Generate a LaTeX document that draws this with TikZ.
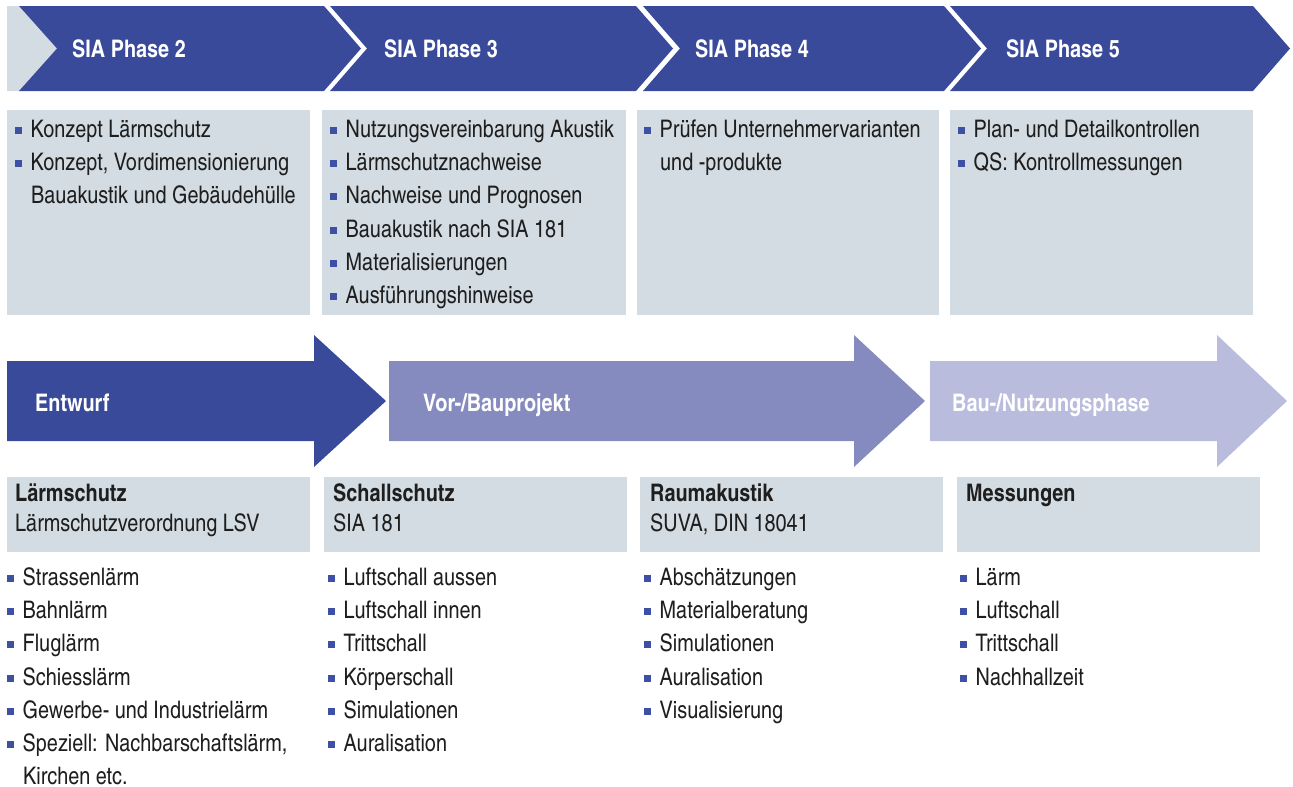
\documentclass[tikz,border=0pt]{standalone}
\usepackage{fontspec}
\setmainfont{texgyreheroscn}[Extension=.otf, UprightFont=*-regular, BoldFont=*-bold]
\definecolor{dunkelblau}{HTML}{394A9B}
\definecolor{mittelblau}{HTML}{858BBE}
\definecolor{hellblau}{HTML}{B9BCDC}
\definecolor{grau}{HTML}{D3DCE2}
\definecolor{punkt}{HTML}{3D50A3}
\definecolor{schrift}{HTML}{1E1E1E}
\newcommand{\pkt}{\textcolor{punkt}{\rule[3pt]{7pt}{7pt}}\hspace{8.5pt}}
\tikzset{
  txt/.style={anchor=base west, inner sep=0pt, text=schrift, font=\fontsize{24.2}{33}\selectfont},
  fett/.style={txt, font=\fontsize{24.2}{33}\selectfont\bfseries},
  weiss/.style={fett, text=white},
}
\begin{document}
\begin{tikzpicture}[x=1pt, y=-1pt]
\useasboundingbox (0,0) rectangle (1293,787);
\fill[grau] (7,6) -- (19,6) -- (57,48.5) -- (19,91) -- (7,91) -- cycle;
\fill[dunkelblau] (19,6) -- (324,6) -- (361,48.5) -- (324,91) -- (19,91) -- (57,48.5) -- cycle;
\fill[dunkelblau] (330,6) -- (636,6) -- (673,48.5) -- (636,91) -- (330,91) -- (367,48.5) -- cycle;
\fill[dunkelblau] (643,6) -- (944,6) -- (981,48.5) -- (944,91) -- (643,91) -- (680,48.5) -- cycle;
\fill[dunkelblau] (950,6) -- (1253,6) -- (1290,48.5) -- (1253,91) -- (950,91) -- (987,48.5) -- cycle;
\node[weiss] (ph2) at (72,57) {SIA Phase 2};
\node[weiss] (ph3) at (384,57) {SIA Phase 3};
\node[weiss] (ph4) at (695,57) {SIA Phase 4};
\node[weiss] (ph5) at (1006,57) {SIA Phase 5};

\fill[grau] (7,110) rectangle (310,315);
\fill[grau] (322,110) rectangle (626,315);
\fill[grau] (637,110) rectangle (939,315);
\fill[grau] (950,110) rectangle (1253,315);
\node[txt] (k2a) at (15,137) {\pkt Konzept Lärmschutz};
\node[txt] (k2b) at (15,170) {\pkt Konzept, Vordimensionierung};
\node[txt] (k2c) at (31,203) {Bauakustik und Gebäudehülle};
\node[txt] (k3a) at (330,137) {\pkt Nutzungsvereinbarung Akustik};
\node[txt] (k3b) at (330,170) {\pkt Lärmschutznachweise};
\node[txt] (k3c) at (330,203) {\pkt Nachweise und Prognosen};
\node[txt] (k3d) at (330,237) {\pkt Bauakustik nach SIA 181};
\node[txt] (k3e) at (330,270) {\pkt Materialisierungen};
\node[txt] (k3f) at (330,303) {\pkt Ausführungshinweise};
\node[txt] (k4a) at (644,137) {\pkt Prüfen Unternehmervarianten};
\node[txt] (k4b) at (660,170) {und -produkte};
\node[txt] (k5a) at (958,137) {\pkt Plan- und Detailkontrollen};
\node[txt] (k5b) at (958,170) {\pkt QS: Kontrollmessungen};

\fill[dunkelblau] (7,361) -- (314,361) -- (314,335) -- (386,401) -- (314,467) -- (314,441) -- (7,441) -- cycle;
\fill[mittelblau] (389,361) -- (854,361) -- (854,335) -- (925,401) -- (854,467) -- (854,441) -- (389,441) -- cycle;
\fill[hellblau] (930,361) -- (1217,361) -- (1217,335) -- (1287,401) -- (1217,467) -- (1217,441) -- (930,441) -- cycle;
\node[weiss] (entwurf) at (35,411) {Entwurf};
\node[weiss] (projekt) at (423,411) {Vor-/Bauprojekt};
\node[weiss] (nutzung) at (952,411) {Bau-/Nutzungsphase};

\fill[grau] (7,477) rectangle (310,552);
\fill[grau] (324,477) rectangle (627,552);
\fill[grau] (640,477) rectangle (943,552);
\fill[grau] (957,477) rectangle (1260,552);
\node[fett] (laerm) at (15,501) {Lärmschutz};
\node[txt] (lsv) at (15,531) {Lärmschutzverordnung LSV};
\node[fett] (schall) at (333,501) {Schallschutz};
\node[txt] (sia) at (333,531) {SIA 181};
\node[fett] (raum) at (650,501) {Raumakustik};
\node[txt] (din) at (650,531) {SUVA, DIN 18041};
\node[fett] (mess) at (966,501) {Messungen};

\node[txt] (l1) at (7,585) {\pkt Strassenlärm};
\node[txt] (l2) at (7,618) {\pkt Bahnlärm};
\node[txt] (l3) at (7,651) {\pkt Fluglärm};
\node[txt] (l4) at (7,685) {\pkt Schiesslärm};
\node[txt] (l5) at (7,718) {\pkt Gewerbe- und Industrielärm};
\node[txt] (l6) at (7,751) {\pkt Speziell: Nachbarschaftslärm,};
\node[txt] (l7) at (23,784) {Kirchen etc.};
\node[txt] (s1) at (328,585) {\pkt Luftschall aussen};
\node[txt] (s2) at (328,618) {\pkt Luftschall innen};
\node[txt] (s3) at (328,651) {\pkt Trittschall};
\node[txt] (s4) at (328,685) {\pkt Körperschall};
\node[txt] (s5) at (328,718) {\pkt Simulationen};
\node[txt] (s6) at (328,751) {\pkt Auralisation};
\node[txt] (r1) at (644,585) {\pkt Abschätzungen};
\node[txt] (r2) at (644,618) {\pkt Materialberatung};
\node[txt] (r3) at (644,651) {\pkt Simulationen};
\node[txt] (r4) at (644,685) {\pkt Auralisation};
\node[txt] (r5) at (644,718) {\pkt Visualisierung};
\node[txt] (m1) at (960,585) {\pkt Lärm};
\node[txt] (m2) at (960,618) {\pkt Luftschall};
\node[txt] (m3) at (960,651) {\pkt Trittschall};
\node[txt] (m4) at (960,685) {\pkt Nachhallzeit};
\end{tikzpicture}
\end{document}
